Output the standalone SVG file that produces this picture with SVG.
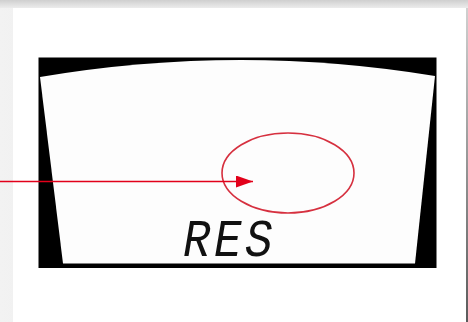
<svg xmlns="http://www.w3.org/2000/svg" width="468" height="322" viewBox="0 0 468 322">
  <defs>
    <linearGradient id="shTop" x1="0" y1="0" x2="0" y2="1">
      <stop offset="0" stop-color="#cfcfcf"/>
      <stop offset="1" stop-color="#ececec"/>
    </linearGradient>
    <linearGradient id="shLeft" x1="0" y1="0" x2="1" y2="0">
      <stop offset="0" stop-color="#f2f2f2"/>
      <stop offset="1" stop-color="#d6d6d6"/>
    </linearGradient>
    <linearGradient id="shRight" x1="0" y1="0" x2="0" y2="1">
      <stop offset="0" stop-color="#d0d0d0"/>
      <stop offset="1" stop-color="#5a5a5a"/>
    </linearGradient>
    <marker id="arrow" markerWidth="17" markerHeight="12" refX="17" refY="6" orient="auto" markerUnits="userSpaceOnUse">
      <path d="M0,0 L17,6 L0,12 Z" fill="#e2001a"/>
    </marker>
    <style>
      .lcd { font-family: "Liberation Mono", "DejaVu Sans Mono", monospace; font-style: italic; font-size: 54px; fill: #111; }
    </style>
  </defs>

  <!-- page background with shadow -->
  <rect x="0" y="0" width="468" height="322" fill="url(#shLeft)"/>
  <rect x="0" y="0" width="468" height="8" fill="url(#shTop)"/>
  <rect x="13" y="8" width="453" height="314" fill="#ffffff"/>
  <rect x="466" y="8" width="2" height="314" fill="url(#shRight)"/>

  <!-- LCD display frame -->
  <g id="display">
    <rect x="38.5" y="57.5" width="398" height="210.5" fill="#000"/>
    <path d="M40,77 Q238,43.5 435,76 L415,263.5 L63,263.5 Z" fill="#fdfdfd"/>
    <text class="lcd" x="183" y="256" transform="translate(183 0) scale(0.85 1) translate(-183 0)" letter-spacing="4">RES</text>
  </g>

  <!-- highlight ellipse -->
  <g id="highlight">
    <ellipse cx="288" cy="173" rx="66" ry="40" fill="none" stroke="#d6303f" stroke-width="1.6"/>
  </g>

  <!-- connector -->
  <g id="connectors">
    <line x1="0" y1="181.5" x2="253" y2="181.5" stroke="#e2001a" stroke-width="1.6" marker-end="url(#arrow)"/>
  </g>
</svg>
